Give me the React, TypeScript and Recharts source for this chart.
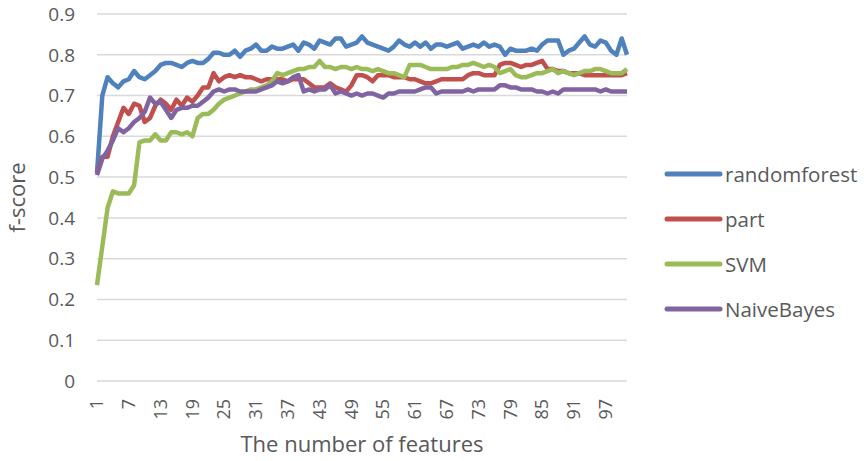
import { LineChart, Line, XAxis, YAxis, CartesianGrid } from "recharts";

// f-score per number of features
const randomforest = [
  0.51, 0.70, 0.745, 0.73, 0.72, 0.735, 0.74, 0.76, 0.745, 0.74,
  0.75, 0.76, 0.775, 0.78, 0.78, 0.775, 0.77, 0.78, 0.785, 0.78,
  0.78, 0.79, 0.805, 0.805, 0.80, 0.80, 0.81, 0.795, 0.81, 0.815,
  0.825, 0.81, 0.81, 0.82, 0.815, 0.815, 0.82, 0.825, 0.81, 0.83,
  0.825, 0.815, 0.835, 0.83, 0.825, 0.84, 0.84, 0.82, 0.825, 0.83,
  0.845, 0.83, 0.825, 0.82, 0.815, 0.81, 0.82, 0.835, 0.825, 0.82,
  0.83, 0.82, 0.83, 0.815, 0.825, 0.825, 0.82, 0.825, 0.83, 0.815,
  0.82, 0.825, 0.82, 0.83, 0.82, 0.825, 0.82, 0.80, 0.815, 0.81,
  0.81, 0.81, 0.815, 0.81, 0.825, 0.835, 0.835, 0.835, 0.80, 0.81,
  0.815, 0.83, 0.845, 0.825, 0.82, 0.835, 0.83, 0.81, 0.80, 0.84,
  0.80,
];
const part = [
  0.51, 0.55, 0.55, 0.60, 0.635, 0.67, 0.655, 0.68, 0.675, 0.635,
  0.645, 0.675, 0.69, 0.68, 0.665, 0.69, 0.675, 0.695, 0.685, 0.70,
  0.72, 0.72, 0.755, 0.735, 0.745, 0.75, 0.745, 0.75, 0.745, 0.745,
  0.74, 0.735, 0.74, 0.74, 0.74, 0.74, 0.735, 0.74, 0.74, 0.74,
  0.73, 0.72, 0.72, 0.72, 0.73, 0.72, 0.715, 0.71, 0.725, 0.75,
  0.75, 0.745, 0.735, 0.75, 0.75, 0.75, 0.745, 0.745, 0.745, 0.74,
  0.74, 0.735, 0.73, 0.73, 0.735, 0.74, 0.74, 0.74, 0.74, 0.74,
  0.75, 0.755, 0.755, 0.75, 0.75, 0.75, 0.775, 0.78, 0.78, 0.775,
  0.77, 0.775, 0.775, 0.78, 0.785, 0.765, 0.765, 0.76, 0.76, 0.755,
  0.755, 0.755, 0.75, 0.75, 0.75, 0.75, 0.75, 0.75, 0.75, 0.75,
  0.755,
];
const svm = [
  0.235, 0.33, 0.425, 0.465, 0.46, 0.46, 0.46, 0.48, 0.585, 0.59,
  0.59, 0.605, 0.59, 0.59, 0.61, 0.61, 0.605, 0.61, 0.60, 0.645,
  0.655, 0.655, 0.665, 0.68, 0.69, 0.695, 0.70, 0.705, 0.71, 0.715,
  0.715, 0.72, 0.725, 0.735, 0.755, 0.75, 0.755, 0.76, 0.765, 0.765,
  0.77, 0.77, 0.785, 0.77, 0.77, 0.765, 0.77, 0.77, 0.765, 0.77,
  0.765, 0.765, 0.76, 0.765, 0.76, 0.755, 0.755, 0.75, 0.745, 0.775,
  0.775, 0.775, 0.77, 0.765, 0.765, 0.765, 0.765, 0.77, 0.77, 0.775,
  0.775, 0.78, 0.775, 0.77, 0.775, 0.77, 0.755, 0.76, 0.765, 0.75,
  0.745, 0.745, 0.75, 0.755, 0.755, 0.76, 0.765, 0.755, 0.76, 0.755,
  0.75, 0.755, 0.76, 0.76, 0.765, 0.765, 0.76, 0.755, 0.755, 0.755,
  0.765,
];
const naiveBayes = [
  0.505, 0.545, 0.565, 0.59, 0.62, 0.61, 0.62, 0.635, 0.645, 0.66,
  0.695, 0.68, 0.685, 0.665, 0.645, 0.665, 0.67, 0.67, 0.675, 0.675,
  0.685, 0.695, 0.71, 0.715, 0.71, 0.715, 0.715, 0.71, 0.71, 0.71,
  0.71, 0.715, 0.72, 0.725, 0.735, 0.73, 0.735, 0.745, 0.75, 0.71,
  0.715, 0.71, 0.715, 0.715, 0.725, 0.705, 0.71, 0.705, 0.70, 0.705,
  0.70, 0.705, 0.705, 0.70, 0.695, 0.705, 0.705, 0.71, 0.71, 0.71,
  0.71, 0.715, 0.72, 0.72, 0.705, 0.71, 0.71, 0.71, 0.71, 0.71,
  0.715, 0.71, 0.715, 0.715, 0.715, 0.715, 0.725, 0.725, 0.72, 0.72,
  0.715, 0.715, 0.715, 0.71, 0.71, 0.705, 0.71, 0.705, 0.715, 0.715,
  0.715, 0.715, 0.715, 0.715, 0.715, 0.71, 0.715, 0.71, 0.71, 0.71,
  0.71,
];
const yTicks = [0, 0.1, 0.2, 0.3, 0.4, 0.5, 0.6, 0.7, 0.8, 0.9];

const SERIES = [
  { key: "randomforest", color: "#4F81BD" },
  { key: "part", color: "#C0504D" },
  { key: "SVM", color: "#9BBB59" },
  { key: "NaiveBayes", color: "#8064A2" },
];

const FONT = "'Open Sans', sans-serif";
const TEXT = "#595959";

const data = randomforest.map((rf, i) => ({
  n: i + 1,
  randomforest: rf,
  part: part[i],
  SVM: svm[i],
  NaiveBayes: naiveBayes[i],
}));

function XTick({ x, y, payload }: any) {
  return (
    <text
      x={x}
      y={y}
      dy="0.35em"
      transform={`rotate(-90, ${x}, ${y})`}
      textAnchor="end"
      fill={TEXT}
      fontSize={18}
      fontFamily={FONT}
    >
      {payload.value}
    </text>
  );
}

// legend drawn beside the plot, outside the chart's layout so it takes no plot width
function LegendBox() {
  return (
    <div
      style={{
        position: "absolute",
        left: 664,
        top: 151,
        fontFamily: FONT,
        fontSize: 20.5,
        color: TEXT,
      }}
    >
      {SERIES.map((s) => (
        <div
          key={s.key}
          style={{ height: 45, display: "flex", alignItems: "center" }}
        >
          <svg width={61} height={8}>
            <line
              x1={3}
              y1={4}
              x2={56}
              y2={4}
              stroke={s.color}
              strokeWidth={5}
              strokeLinecap="round"
            />
          </svg>
          <span>{s.key}</span>
        </div>
      ))}
    </div>
  );
}

export default function App() {
  return (
    <div
      style={{
        position: "absolute",
        left: 0,
        top: 0,
        width: 864,
        height: 461,
        background: "#fff",
      }}
    >
      <LineChart
        width={864}
        height={461}
        data={data}
        margin={{ top: 14, right: 237, bottom: 0, left: 37 }}
      >
        <CartesianGrid vertical={false} stroke="#D9D9D9" strokeWidth={1.5} />
        <XAxis
          dataKey="n"
          interval={5}
          height={80}
          axisLine={false}
          tickLine={false}
          tick={<XTick />}
          tickMargin={12}
          label={{
            value: "The number of features",
            position: "insideBottom",
            offset: 9,
            fill: TEXT,
            fontSize: 22,
            fontFamily: FONT,
          }}
        />
        <YAxis
          width={60}
          domain={[0, 0.9]}
          ticks={yTicks}
          axisLine={false}
          tickLine={false}
          tickMargin={16}
          tick={{ fill: TEXT, fontSize: 19, fontFamily: FONT }}
          label={{
            value: "f-score",
            angle: -90,
            position: "insideLeft",
            offset: -20,
            fill: TEXT,
            fontSize: 22,
            fontFamily: FONT,
            style: { textAnchor: "middle" },
          }}
        />
        {SERIES.map((s) => (
          <Line
            key={s.key}
            type="linear"
            dataKey={s.key}
            stroke={s.color}
            strokeWidth={4.5}
            strokeLinejoin="round"
            dot={false}
            activeDot={false}
            isAnimationActive={false}
          />
        ))}
      </LineChart>
      <LegendBox />
    </div>
  );
}
